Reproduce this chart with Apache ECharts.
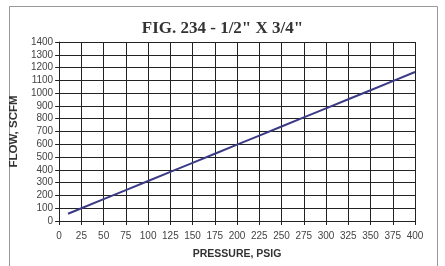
<!DOCTYPE html>
<html><head><meta charset="utf-8">
<script src="https://cdn.jsdelivr.net/npm/echarts@6/dist/echarts.min.js"></script>
<style>html,body{margin:0;padding:0;background:#fff}#c{width:445px;height:266px}</style>
</head><body><div id="c"></div>
<script>
const title = 'FIG. 234 - 1/2" X 3/4"';
const xName = 'PRESSURE, PSIG';
const yName = 'FLOW, SCFM';
const pressure = [10, 25, 50, 75, 100, 125, 150, 175, 200, 225, 250, 275, 300, 325, 350, 375, 400];
const flow = [57, 100, 171, 242, 313, 384, 455, 526, 597, 668, 739, 810, 881, 952, 1023, 1094, 1165];

const chart = echarts.init(document.getElementById('c'), null, {renderer: 'canvas'});
chart.setOption({
  animation: false,
  backgroundColor: '#fff',
  title: {
    text: title, left: 'center', top: 15,
    textStyle: {fontFamily: 'Liberation Serif', fontWeight: 'bold', fontSize: 17, color: '#333'}
  },
  graphic: [{
    type: 'rect', shape: {x: 9.5, y: 6.5, width: 428, height: 270},
    style: {fill: 'none', stroke: '#999', lineWidth: 1}, silent: true
  }],
  grid: {left: 54, right: 30, top: 42, bottom: 45},
  xAxis: {
    type: 'value', min: 0, max: 400, interval: 25,
    name: xName, nameLocation: 'middle', nameGap: 28,
    nameTextStyle: {fontFamily: 'Liberation Sans', fontWeight: 'bold', fontSize: 10.5, color: '#333'},
    axisLine: {show: true, lineStyle: {color: '#222', width: 1}},
    axisTick: {show: true, length: 4, lineStyle: {color: '#222'}},
    axisLabel: {fontFamily: 'Liberation Sans', fontSize: 10, color: '#444', margin: 10,
      showMinLabel: true, showMaxLabel: true,
      formatter: v => String(v)},
    splitLine: {show: true, lineStyle: {color: '#222', width: 1}}
  },
  yAxis: {
    type: 'value', min: 0, max: 1400, interval: 100,
    name: yName, nameLocation: 'middle', nameGap: 26, nameRotate: 90,
    nameTextStyle: {fontFamily: 'Liberation Sans', fontWeight: 'bold', fontSize: 11.5, color: '#333'},
    axisLine: {show: true, lineStyle: {color: '#222', width: 1}},
    axisTick: {show: true, length: 4, lineStyle: {color: '#222'}},
    axisLabel: {fontFamily: 'Liberation Sans', fontSize: 10, color: '#444', margin: 6,
      formatter: v => String(v)},
    splitLine: {show: true, lineStyle: {color: '#222', width: 1}}
  },
  series: [{
    type: 'line', data: pressure.map((p, i) => [p, flow[i]]),
    showSymbol: false, lineStyle: {color: '#3b3a85', width: 2}
  }]
});
</script></body></html>
